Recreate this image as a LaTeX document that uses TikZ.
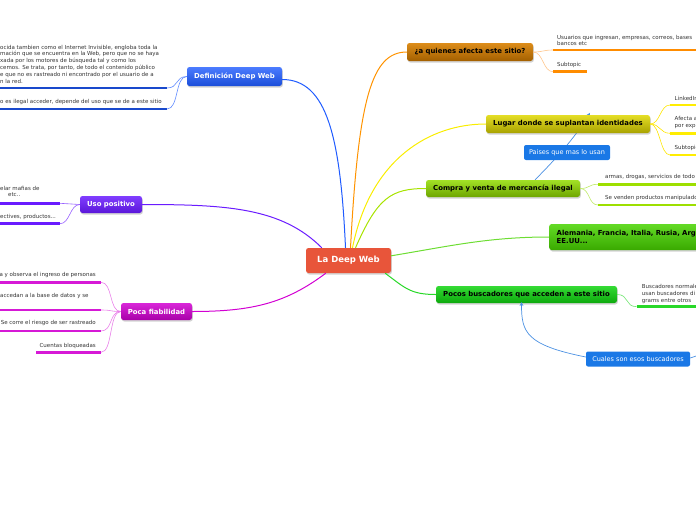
\documentclass[tikz,border=0pt]{standalone}
\usepackage{fontspec}
\setmainfont{DejaVu Sans}
\usetikzlibrary{shadows,backgrounds,arrows}

\definecolor{deepred}{HTML}{E8553A}
\definecolor{defblue}{HTML}{1F5BFF}
\definecolor{usopurple}{HTML}{6A1BFF}
\definecolor{pocamag}{HTML}{D200D2}
\definecolor{quienorange}{HTML}{D98000}
\definecolor{lugaryellow}{HTML}{E0D800}
\definecolor{compralime}{HTML}{92DC00}
\definecolor{alemgreen}{HTML}{48D400}
\definecolor{pocosgreen}{HTML}{10D410}
\definecolor{relblue}{HTML}{1A78E6}
\definecolor{relline}{HTML}{4A90E2}

\tikzset{
	topic/.style={rounded corners=2.5pt, font=\bfseries\fontsize{6.9}{8.2}\selectfont, minimum height=17pt, inner xsep=4pt, inner ysep=0pt,
		drop shadow={opacity=0.35, shadow xshift=0.8pt, shadow yshift=-1.5pt}},
	sub/.style={font=\fontsize{5.5}{6.8}\selectfont, text=black!80, inner sep=0pt, align=left},
	relbox/.style={rounded corners=2pt, fill=relblue, text=white, font=\fontsize{6.5}{7.5}\selectfont, minimum height=15pt, inner ysep=0pt},
	branch/.style={line width=1pt},
	twig/.style={line width=0.6pt},
	bar/.style={line width=2.5pt},
	rel/.style={relline, line width=0.7pt, -stealth}
}

\begin{document}
\begin{tikzpicture}[x=1pt,y=-1pt]
		\useasboundingbox (0,0) rectangle (696,520);
		\clip (0,0) rectangle (696,520);
		% main topics
		\node[topic, fill=deepred, text=white, minimum width=85pt, minimum height=25pt, font=\bfseries\fontsize{8.5}{10}\selectfont] (deep) at (348.5,260.5) {La Deep Web};
		\node[topic, top color=defblue!80, bottom color=defblue!85!black, text=white, minimum width=95pt, minimum height=19pt] (def) at (234.5,76.5) {Definición Deep Web};
		\node[topic, top color=usopurple!85, bottom color=usopurple!85!black, text=white, minimum width=62pt] (uso) at (111,204.5) {Uso positivo};
		\node[topic, top color=pocamag!85, bottom color=pocamag!80!black, text=white, minimum width=71pt] (poca) at (156.5,311.5) {Poca fiabilidad};
		\node[topic, top color=quienorange!90, bottom color=quienorange!75!black, minimum width=126pt, minimum height=18pt] (quien) at (470,52) {¿a quienes afecta este sitio?};
		\node[topic, top color=lugaryellow!85, bottom color=lugaryellow!75!black, minimum width=164pt, minimum height=18pt] (lugar) at (568,124) {Lugar donde se suplantan identidades};
		\node[topic, top color=compralime!85, bottom color=compralime!75!black, minimum width=154pt] (compra) at (503,188.5) {Compra y venta de mercancía ilegal};
		\node[topic, top color=alemgreen!85, bottom color=alemgreen!80!black, anchor=west, text width=200pt, inner xsep=7.5pt, minimum height=26pt, align=left] (alem) at (549,237) {Alemania, Francia, Italia, Rusia, Arg\\EE.UU...};
		\node[topic, top color=pocosgreen!85, bottom color=pocosgreen!80!black, minimum width=181pt] (pocos) at (526.5,294.5) {Pocos buscadores que acceden a este sitio};

		% connectors from the centre
		\draw[branch, defblue] ([xshift=-3pt]deep.north) .. controls +(-5,-110) and +(45,0) .. ([yshift=-3pt]def.east);
		\draw[branch, orange!85!yellow] ([xshift=2pt]deep.north) .. controls +(8,-150) and +(-35,0) .. (quien.west);
		\draw[branch, yellow!95!olive] ([xshift=4pt]deep.north) .. controls +(18,-90) and +(-55,0) .. (lugar.west);
		\draw[branch, compralime!80!yellow] ([xshift=7pt]deep.north) .. controls +(22,-50) and +(-35,0) .. (compra.west);
		\draw[branch, alemgreen!80!white] ([yshift=-8pt]deep.north east) .. controls +(60,-10) and +(-60,0) .. (alem.west);
		\draw[branch, pocosgreen!90!white] ([xshift=-6pt]deep.south east) .. controls +(20,15) and +(-25,0) .. (pocos.west);
		\draw[branch, pocamag] ([xshift=20pt]deep.south west) .. controls +(-40,30) and +(60,0) .. (poca.east);
		\draw[branch, usopurple] ([xshift=16pt]deep.north west) .. controls +(-40,-40) and +(85,0) .. (uso.east);

		% Definicion
		\node[sub, anchor=west] (defa) at (0,64) {ocida tambien como el Internet Invisible, engloba toda la\\mación que se encuentra en la Web, pero que no se haya\\xada por los motores de búsqueda tal y como los\\cemos. Se trata, por tanto, de todo el contenido público\\e que no es rastreado ni encontrado por el usuario de a\\n la red.};
		\node[sub, anchor=west] (defb) at (0,101.7) {o es ilegal acceder, depende del uso que se de a este sitio};
		\coordinate (defas) at (-3,88); \coordinate (defae) at (167,88);
		\coordinate (defbs) at (-3,109); \coordinate (defbe) at (167,109);
		\draw[bar, defblue!80!black] (defas) -- (defae);
		\draw[bar, defblue!80!black] (defbs) -- (defbe);
		\draw[twig, defblue!70] (def.west) .. controls +(-12,0) and +(12,0) .. (defae);
		\draw[twig, defblue!70] (def.west) .. controls +(-12,0) and +(12,0) .. (defbe);

		% Uso positivo
		\node[sub, anchor=west] (usoa) at (0,191.5) {elar mafias de\\\hspace*{8pt}etc..};
		\node[sub, anchor=west] (usob) at (0,217.3) {ectives, productos...};
		\coordinate (usoas) at (-3,203.3); \coordinate (usoae) at (60,203.3);
		\coordinate (usobs) at (-3,223.7); \coordinate (usobe) at (60,223.7);
		\draw[bar, usopurple] (usoas) -- (usoae);
		\draw[bar, usopurple] (usobs) -- (usobe);
		\draw[twig, usopurple!70] (uso.west) .. controls +(-10,0) and +(10,0) .. (usoae);
		\draw[twig, usopurple!70] (uso.west) .. controls +(-10,0) and +(10,0) .. (usobe);

		% Poca fiabilidad
		\node[sub, anchor=east] (pocaa) at (96,275) {a y observa el ingreso de personas};
		\node[sub, anchor=west] (pocab) at (0,296) {accedan a la base de datos y se};
		\node[sub, anchor=east] (pocac) at (96,323.3) {Se corre el riesgo de ser rastreado};
		\node[sub, anchor=east] (pocad) at (96,345.7) {Cuentas bloqueadas};
		\coordinate (pocaas) at (-3,282.3); \coordinate (pocaae) at (101,282.3);
		\coordinate (pocabs) at (-3,310); \coordinate (pocabe) at (101,310);
		\coordinate (pocacs) at (-3,331); \coordinate (pocace) at (101,331);
		\coordinate (pocads) at (36,352.3); \coordinate (pocade) at (101,352.3);
		\foreach \s in {a,b,c,d} {
			\draw[bar, pocamag!90!white] (poca\s s) -- (poca\s e);
			\draw[twig, pocamag!50] (poca.west) .. controls +(-12,0) and +(12,0) .. (poca\s e);
		}

		% a quienes afecta
		\node[sub, anchor=west] (quiena) at (557,40.5) {Usuarios que ingresan, empresas, correos, bases\\bancos etc};
		\node[sub, anchor=west] (quienb) at (557,65) {Subtopic};
		\coordinate (quienas) at (553,50); \coordinate (quienae) at (700,50);
		\coordinate (quienbs) at (553,71.7); \coordinate (quienbe) at (587,71.7);
		\draw[bar, orange!90!yellow] (quienas) -- (quienae);
		\draw[bar, orange!90!yellow] (quienbs) -- (quienbe);
		\draw[twig, orange!45] (quien.east) .. controls +(10,0) and +(-10,0) .. (quienas);
		\draw[twig, orange!45] (quien.east) .. controls +(10,0) and +(-10,0) .. (quienbs);

		% Lugar donde se suplantan
		\node[sub, anchor=west] (lugara) at (674.5,98.3) {LinkedIn};
		\node[sub, anchor=west] (lugarb) at (674.5,122.5) {Afecta a\\por exp};
		\node[sub, anchor=west] (lugarc) at (674.5,147.7) {Subtopic};
		\coordinate (lugaras) at (670,105); \coordinate (lugarae) at (700,105);
		\coordinate (lugarbs) at (670,133.3); \coordinate (lugarbe) at (700,133.3);
		\coordinate (lugarcs) at (670,155); \coordinate (lugarce) at (700,155);
		\foreach \s in {a,b,c} {
			\draw[bar, yellow!95!orange] (lugar\s s) -- (lugar\s e);
			\draw[twig, yellow!90!orange] (lugar.east) .. controls +(10,0) and +(-10,0) .. (lugar\s s);
		}

		% Compra y venta
		\node[sub, anchor=west] (compraa) at (605,177) {armas, drogas, servicios de todo};
		\node[sub, anchor=west] (comprab) at (605,198.3) {Se venden productos manipulados};
		\coordinate (compraas) at (598,184.3); \coordinate (compraae) at (700,184.3);
		\coordinate (comprabs) at (598,205); \coordinate (comprabe) at (700,205);
		\foreach \s in {a,b} {
			\draw[bar, compralime!90!yellow] (compra\s s) -- (compra\s e);
			\draw[twig, compralime!60] (compra.east) .. controls +(10,0) and +(-10,0) .. (compra\s s);
		}

		% Pocos buscadores
		\node[sub, anchor=west] (pocosa) at (641.7,294) {Buscadores normale\\usan buscadores di\\grams entre otros};
		\coordinate (pocosas) at (636.7,306.7); \coordinate (pocosae) at (700,306.7);
		\draw[bar, pocosgreen!90!white] (pocosas) -- (pocosae);
		\draw[twig, pocosgreen!60] (pocos.east) .. controls +(12,0) and +(-12,0) .. (pocosas);

		% relationships
		\begin{pgfonlayer}{background}
			\draw[rel] ([xshift=32pt]compra.north) .. controls +(20,-20) and +(-15,25) .. ([xshift=22pt, yshift=2pt]lugar.north);
		\end{pgfonlayer}
		\node[relbox, minimum width=86pt] (paises) at (567,152.5) {Paises que mas lo usan};
		\node[relbox, minimum width=104pt] (cuales) at (638,359) {Cuales son esos buscadores};
		\coordinate (cualesout) at (702,354);
		\draw[rel] ([yshift=2pt]cuales.west) .. controls +(-60,-12) and +(0,30) .. ([xshift=-5pt, yshift=1pt]pocos.south);
		\draw[relline, line width=0.7pt] ([yshift=1pt]cuales.east) -- (cualesout);
	\end{tikzpicture}
\end{document}
